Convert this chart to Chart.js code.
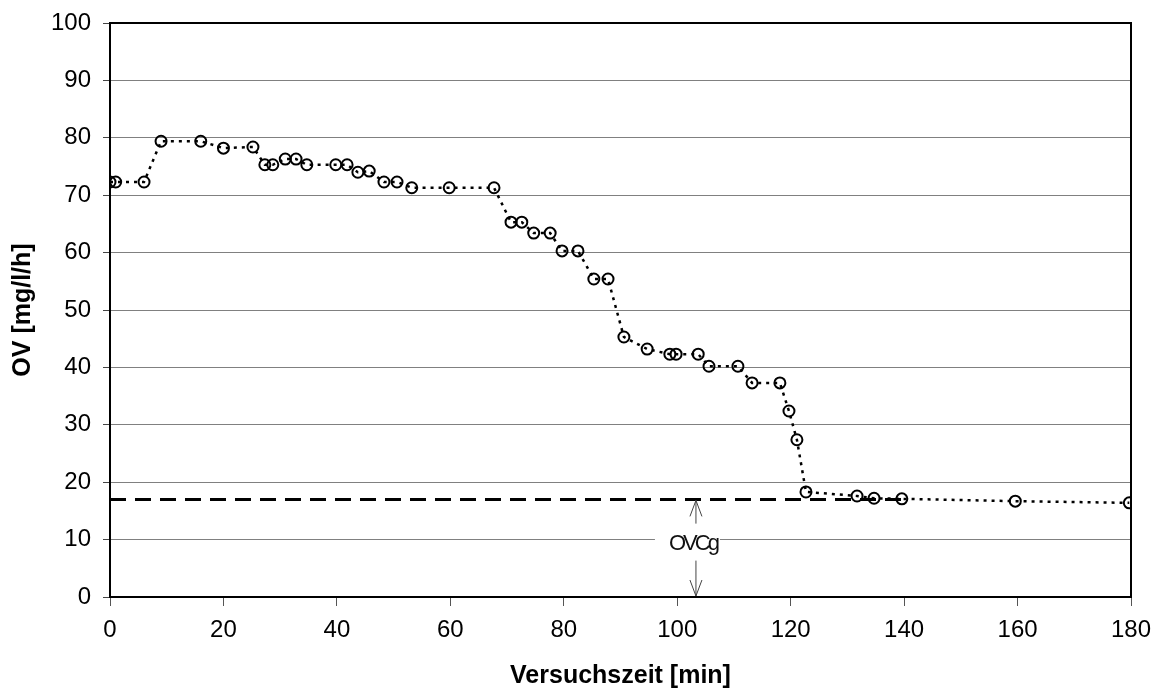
<!DOCTYPE html>
<html lang="de">
<head>
  <meta charset="UTF-8">
  <title>OV Versuchszeit</title>
  <style>
    body { margin: 0; padding: 0; background: #fff; }
    #chart { display: block; }
  </style>
  <script src="https://cdn.jsdelivr.net/npm/chart.js"></script>
</head>
<body>
  <canvas id="chart" width="1158" height="691"></canvas>
  <script>
    // Messwerte
    const times = [0, 1, 6, 9, 16, 20, 25.2, 27.3, 28.7, 30.9, 32.8, 34.7, 39.8, 41.8, 43.7, 45.7,
      48.3, 50.6, 53.2, 59.8, 67.7, 70.7, 72.6, 74.7, 77.6, 79.7, 82.5, 85.3, 87.8, 90.6, 94.7,
      98.7, 99.8, 103.7, 105.6, 110.7, 113.2, 118.1, 119.7, 121.1, 122.7, 131.7, 134.7, 139.6,
      159.6, 179.7];
    const ov = [72.3, 72.3, 72.3, 79.4, 79.4, 78.2, 78.4, 75.3, 75.3, 76.3, 76.3, 75.3, 75.3, 75.3,
      74.0, 74.2, 72.3, 72.3, 71.3, 71.3, 71.3, 65.3, 65.3, 63.4, 63.4, 60.3, 60.3, 55.4, 55.4,
      45.3, 43.2, 42.3, 42.3, 42.3, 40.2, 40.2, 37.3, 37.3, 32.4, 27.4, 18.3, 17.6, 17.2, 17.1,
      16.7, 16.4];

    // Grenzwert OVCg
    const ovcgTimes = [0, 140];
    const ovcgLevel = 17;
    const ovcgArrowAt = 103.3;
    const ovcgLabel = 'OVCg';

    const xTicks = [0, 20, 40, 60, 80, 100, 120, 140, 160, 180];
    const yTicks = [0, 10, 20, 30, 40, 50, 60, 70, 80, 90, 100];

    const frame = {
      id: 'frame',
      afterDatasetsDraw(chart) {
        const { ctx, chartArea: a, scales: { x, y } } = chart;
        ctx.save();
        // Pfeil + Beschriftung
        const ax = x.getPixelForValue(ovcgArrowAt);
        const yTop = y.getPixelForValue(ovcgLevel);
        const yBot = y.getPixelForValue(0);
        const yLab = y.getPixelForValue(9.3);
        ctx.fillStyle = '#fff';
        ctx.fillRect(ax - 41, yLab - 16, 65, 32);
        ctx.strokeStyle = '#444';
        ctx.lineWidth = 1;
        ctx.beginPath();
        ctx.moveTo(ax, yTop + 1); ctx.lineTo(ax, yLab - 20);
        ctx.moveTo(ax, yLab + 17); ctx.lineTo(ax, yBot - 1);
        ctx.moveTo(ax - 6, yTop + 17); ctx.lineTo(ax, yTop + 1); ctx.lineTo(ax + 6, yTop + 17);
        ctx.moveTo(ax - 6, yBot - 17); ctx.lineTo(ax, yBot - 1); ctx.lineTo(ax + 6, yBot - 17);
        ctx.stroke();
        ctx.font = '22px "Liberation Sans", Arial, sans-serif';
        ctx.letterSpacing = '-3px';
        ctx.fillStyle = '#111';
        ctx.textAlign = 'center';
        ctx.textBaseline = 'middle';
        ctx.fillText(ovcgLabel, ax - 3, yLab);
        ctx.letterSpacing = '0px';
        // Rahmen oben/rechts
        ctx.strokeStyle = '#000';
        ctx.lineWidth = 2;
        ctx.beginPath();
        ctx.moveTo(a.left, a.top); ctx.lineTo(a.right, a.top); ctx.lineTo(a.right, a.bottom);
        ctx.stroke();
        ctx.restore();
      }
    };

    const font = { family: '"Liberation Sans", Arial, sans-serif', size: 24 };
    const titleFont = { family: '"Liberation Sans", Arial, sans-serif', size: 25, weight: 'bold' };

    new Chart(document.getElementById('chart'), {
      type: 'scatter',
      data: {
        datasets: [
          {
            label: 'OV',
            data: times.map((t, i) => ({ x: t, y: ov[i] })),
            showLine: true,
            borderColor: '#000',
            borderWidth: 2.5,
            borderDash: [3, 5],
            pointRadius: 5.5,
            pointBorderWidth: 2,
            pointBorderColor: '#000',
            pointBackgroundColor: 'rgba(0,0,0,0)',
            order: 1
          },
          {
            label: 'OVCg',
            data: ovcgTimes.map(t => ({ x: t, y: ovcgLevel })),
            showLine: true,
            borderColor: '#000',
            borderWidth: 3,
            borderDash: [16, 9],
            pointRadius: 0,
            order: 2
          }
        ]
      },
      options: {
        responsive: false,
        animation: false,
        layout: { padding: { top: 23, right: 27, left: 0, bottom: 0 } },
        plugins: { legend: { display: false }, tooltip: { enabled: false } },
        scales: {
          x: {
            type: 'linear',
            min: 0, max: 180,
            afterBuildTicks: s => { s.ticks = xTicks.map(v => ({ value: v })); },
            afterFit: s => { s.height = 94; s.paddingLeft = 0; s.paddingRight = 0; },
            border: { color: '#000', width: 2 },
            grid: { drawOnChartArea: false, drawTicks: true, tickLength: 9, color: '#555' },
            ticks: { color: '#000', font: font, padding: 10, maxRotation: 0 },
            title: { display: true, text: 'Versuchszeit [min]', color: '#000',
              font: titleFont, padding: { top: 4, bottom: 0 } }
          },
          y: {
            min: 0, max: 100,
            afterBuildTicks: s => { s.ticks = yTicks.map(v => ({ value: v })); },
            afterFit: s => { s.width = 110; s.paddingTop = 0; s.paddingBottom = 0; },
            border: { color: '#000', width: 2 },
            grid: { color: '#808080', lineWidth: 1, tickLength: 7, tickColor: '#444' },
            ticks: { color: '#000', font: font, padding: 12 },
            title: { display: true, text: 'OV [mg/l/h]', color: '#000',
              font: titleFont, padding: { top: 8, bottom: 4 } }
          }
        }
      },
      plugins: [frame]
    });
  </script>
</body>
</html>
